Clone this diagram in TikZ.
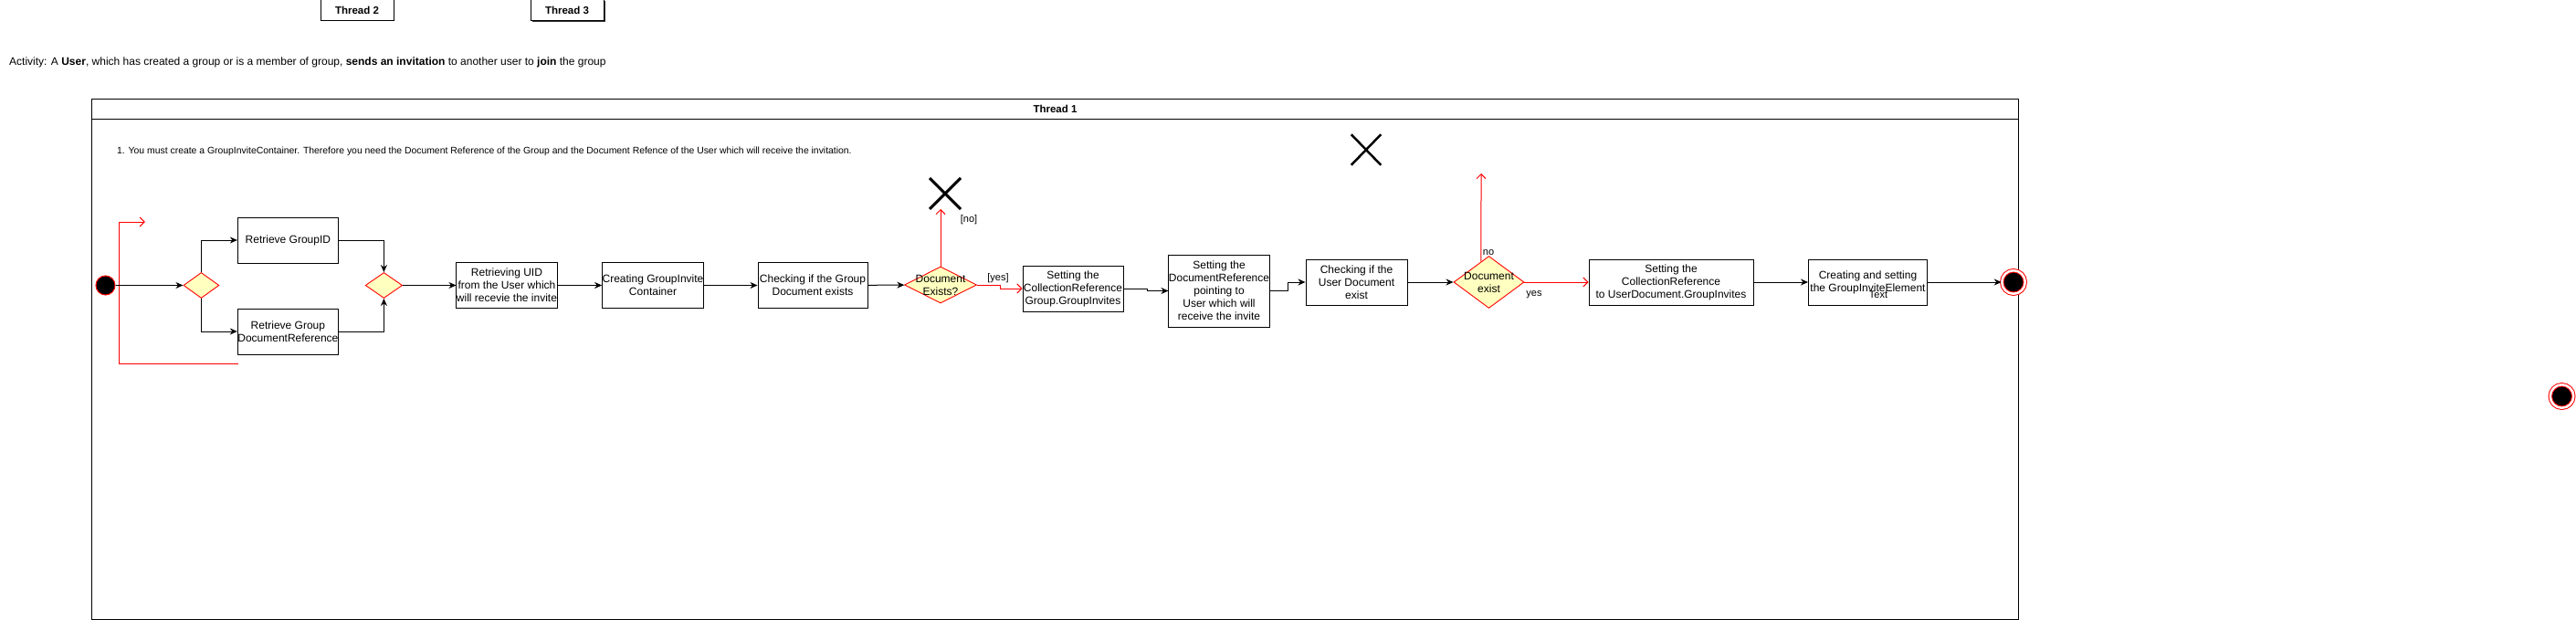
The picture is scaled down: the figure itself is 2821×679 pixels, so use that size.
\documentclass[tikz,border=0pt]{standalone}
\usepackage{fontspec}
\setmainfont{Liberation Sans}
\usepackage{xcolor}
\usetikzlibrary{shapes.geometric,shapes.misc,arrows.meta,calc,shadows}

\definecolor{decisionfill}{HTML}{FFFFC0}

\begin{document}
\begin{tikzpicture}[x=1pt, y=-1pt, font=\fontsize{12}{14}\selectfont,
    act/.style={rectangle, draw, fill=white, line width=1pt, align=center, inner sep=0pt, minimum height=50pt},
    lanehead/.style={act, minimum width=80pt, minimum height=23pt, font=\fontsize{11.5}{13}\selectfont\bfseries},
    choice/.style={diamond, draw=red, fill=decisionfill, line width=0.9pt, inner sep=0pt},
    initial/.style={circle, fill=black, draw=red, line width=1pt, minimum size=21pt, inner sep=0pt},
    final/.style={circle, fill=black, draw=red, line width=1pt, double=white, double distance=2.5pt, minimum size=25.5pt, inner sep=0pt},
    killmark/.style={cross out, draw, inner sep=0pt, minimum width=31pt, minimum height=31pt},
    guard/.style={font=\fontsize{11}{13}\selectfont, inner sep=0pt},
    flow/.style={draw, line width=1pt, -{Stealth[length=8pt, width=7pt, inset=2.5pt]}},
    redflow/.style={draw=red, line width=1pt, -{Straight Barb[length=5pt, width=10pt]}}]
    \useasboundingbox (0,0) rectangle (2821,679);

    \node[lanehead] (thrtwo) at (391,11.5) {Thread 2};
    \node[lanehead, drop shadow={shadow xshift=1.5pt, shadow yshift=-1.5pt, fill=black!80, opacity=1}] (thrthree) at (621,11.5) {Thread 3};

    \node[anchor=west, inner sep=0pt] (activity) at (10,68) {Activity: A \textbf{User}, which has created a group or is a member of group, \textbf{sends an invitation} to another user to \textbf{join} the group};

    \node[draw, line width=1pt, minimum width=2110pt, minimum height=570pt, inner sep=0pt, anchor=north west] (pool) at (100,108) {};
    \draw[line width=1pt] ($(pool.north west)+(0,23)$) -- ($(pool.north east)+(0,23)$);
    \node[font=\fontsize{11.5}{13}\selectfont\bfseries] (pooltitle) at ($(pool.north)+(0,11.5)$) {Thread 1};

    \node[anchor=west, inner sep=0pt, font=\fontsize{10.4}{12}\selectfont] (note) at (128,166) {1. You must create a GroupInviteContainer. Therefore you need the Document Reference of the Group and the Document Refence of the User which will receive the invitation.};

    \node[initial] (start) at (115.5,312.5) {};
    \node[choice, minimum width=39pt, minimum height=28pt] (fork) at (220.4,312.5) {};
    \node[act, minimum width=110pt] (grpid) at (315.4,263) {Retrieve GroupID};
    \node[act, minimum width=110pt] (grpref) at (315.4,363) {Retrieve Group\\DocumentReference};
    \node[choice, minimum width=40.5pt, minimum height=28pt] (join) at (420.4,312.5) {};
    \node[act, minimum width=110pt] (uid) at (555,312.5) {Retrieving UID\\from the User which\\will recevie the invite};
    \node[act, minimum width=110pt] (cont) at (715,312.5) {Creating GroupInvite\\Container};
    \node[act, minimum width=120pt] (chkgrp) at (890,312.5) {Checking if the Group\\Document exists};
    \node[choice, minimum width=79pt, minimum height=40pt, label={[align=center]center:Document\\Exists?}] (exgrp) at (1030,312) {};
    \node[killmark, line width=3pt] (xgrp) at (1035,212) {};
    \node[act, minimum width=110pt] (setgrp) at (1175,316) {Setting the\\CollectionReference\\Group.GroupInvites};
    \node[act, minimum width=110pt, minimum height=79pt] (setref) at (1335,318.5) {Setting the\\DocumentReference\\pointing to\\User which will\\receive the invite};
    \node[act, minimum width=111pt] (chkusr) at (1485.5,309) {Checking if the\\User Document\\exist};
    \node[choice, minimum width=77pt, minimum height=57pt, label={[align=center]center:Document\\exist}] (exusr) at (1630.5,309) {};
    \node[killmark, line width=2.5pt, minimum width=30pt] (xusr) at (1496,164) {};
    \node[act, minimum width=180pt] (setusr) at (1830,309) {Setting the\\CollectionReference\\to UserDocument.GroupInvites};
    \node[act, minimum width=130pt] (mkelem) at (2045.5,309) {Creating and setting\\the GroupInviteElement};
    \node[inner sep=0pt, font=\fontsize{11}{13}\selectfont] (elemtext) at (2057,323) {Text};
    \node[final] (endin) at (2205,309) {};
    \node[final] (endout) at (2805.5,434) {};

    \node[guard] (nogrp) at (1061,241) {[no]};
    \node[guard] (yesgrp) at (1093,305) {[yes]};
    \node[guard] (nousrlbl) at (1630,277) {no};
    \node[guard] (yesusrlbl) at (1680,323) {yes};

    \coordinate (loopfoot) at (260.7,398);
    \coordinate (loopcorner) at (130.4,243);
    \coordinate (looptip) at (158.9,243);
    \coordinate (nousr) at (1622,190);

    \draw[redflow] (loopfoot) -| (loopcorner) -- (looptip);
    \draw[flow] (start) -- (fork);
    \draw[flow] (fork.north) |- (grpid.west);
    \draw[flow] (fork.south) |- (grpref.west);
    \draw[flow] (grpid.east) -| (join.north);
    \draw[flow] (grpref.east) -| (join.south);
    \draw[flow] (join) -- (uid);
    \draw[flow] (uid) -- (cont);
    \draw[flow] (cont) -- (chkgrp);
    \draw[flow] (chkgrp) -- (exgrp);
    \draw[redflow] (exgrp.north) -- (exgrp.north |- xgrp.south);
    \draw[redflow] (exgrp.east) -- ++(26,0) |- (setgrp.west);
    \draw[flow] (setgrp.east) -- ++(26,0) |- (setref.west);
    \draw[flow] (setref.east) -- ++(20,0) |- (chkusr.west);
    \draw[flow] (chkusr) -- (exusr);
    \draw[redflow] ($(exusr.north)!0.22!(exusr.west)$) -- (nousr);
    \draw[redflow] (exusr) -- (setusr);
    \draw[flow] (setusr) -- (mkelem);
    \draw[flow] (mkelem) -- (endin);
\end{tikzpicture}
\end{document}
